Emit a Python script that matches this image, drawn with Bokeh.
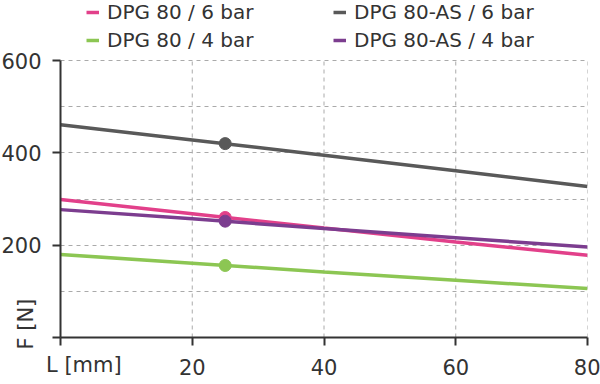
import math
from bokeh.plotting import figure
from bokeh.models import Legend, LegendItem, FixedTicker, Range1d
from bokeh.embed import file_html
from bokeh.resources import INLINE

# Data
L = [0, 20, 40, 60, 80]
dpg80_6 = [299, 268, 237, 207, 178]
dpg80as_6 = [461, 428, 395, 361, 327]
dpg80_4 = [180, 161, 142, 124, 106]
dpg80as_4 = [277, 257, 236, 216, 196]
marker_L = [25]
m_dpg80_6 = [260]
m_dpg80as_6 = [420]
m_dpg80_4 = [156]
m_dpg80as_4 = [252]

names = ["DPG 80 / 6 bar", "DPG 80-AS / 6 bar", "DPG 80 / 4 bar", "DPG 80-AS / 4 bar"]
colors = ["#e2408a", "#595959", "#8cc653", "#7c3d8f"]
series = [dpg80_6, dpg80as_6, dpg80_4, dpg80as_4]
markers = [m_dpg80_6, m_dpg80as_6, m_dpg80_4, m_dpg80as_4]
x_ticks = [0, 20, 40, 60, 80]
y_ticks = [0, 200, 400, 600]
y_grid = [100, 200, 300, 400, 500, 600]
x_grid = [20, 40, 60, 80]
y_max = 600
y_top = 730  # headroom above the plot for the legend

FONT = "DejaVu Sans"
TXT = "#333333"
GRID = "#aaaaaa"
PAD = "\u00a0"

p = figure(width=600, height=384, output_backend="svg", toolbar_location=None,
           x_range=Range1d(0, 80), y_range=Range1d(0, y_top),
           min_border_left=60, min_border_right=13, min_border_top=0, min_border_bottom=47)
p.outline_line_color = None
p.background_fill_color = "white"

# grids
p.xgrid.visible = False
p.ygrid.ticker = FixedTicker(ticks=y_grid)
p.ygrid.grid_line_color = GRID
p.ygrid.grid_line_dash = "4 4"
p.ygrid.grid_line_width = 1
p.segment(x0=x_grid, y0=0, x1=x_grid, y1=y_max, line_color=GRID, line_dash="4 4", line_width=1)

# axes
p.xaxis.ticker = FixedTicker(ticks=x_ticks)
p.yaxis.ticker = FixedTicker(ticks=y_ticks)
p.yaxis.bounds = (0, y_max)
p.xaxis.major_label_overrides = {0: ""}
p.yaxis.major_label_overrides = {0: ""}
for ax in (p.xaxis, p.yaxis):
    ax.axis_line_color = TXT
    ax.axis_line_width = 2
    ax.major_tick_line_color = TXT
    ax.major_tick_line_width = 2
    ax.major_tick_out = 8
    ax.major_tick_in = 0
    ax.minor_tick_line_color = None
    ax.major_label_text_font = FONT
    ax.major_label_text_font_size = "21px"
    ax.major_label_text_color = TXT
    ax.axis_label_text_font = FONT
    ax.axis_label_text_font_size = "21px"
    ax.axis_label_text_font_style = "normal"
    ax.axis_label_text_color = TXT
    ax.axis_label_align = "start"
p.xaxis.major_label_standoff = 13
p.yaxis.major_label_standoff = 11
p.xaxis.axis_label = PAD * 7 + "L [mm]"
p.yaxis.axis_label = PAD * 4 + "F [N]"
p.xaxis.axis_label_standoff = -25
p.yaxis.axis_label_standoff = -40

renderers = {}
for name, col, ys, ms in zip(names, colors, series, markers):
    r = p.line(L, ys, line_color=col, line_width=3.5)
    p.scatter(marker_L, ms, size=12, color=col)
    renderers[name] = r

# column-first fill: col 1 = DPG 80, col 2 = DPG 80-AS
order = [names[0], names[2], names[1], names[3]]
items = [LegendItem(label=n, renderers=[renderers[n]]) for n in order]

legend = Legend(items=items, ncols=2, location=(26, 285),
                label_text_font=FONT, label_text_font_size="20px", label_text_color=TXT,
                glyph_width=13, glyph_height=24, label_height=24, label_width=222,
                label_standoff=8, spacing=4, padding=0, margin=0,
                border_line_color=None, background_fill_alpha=0)
p.add_layout(legend)

open("out.html", "w").write(file_html(p, INLINE))
